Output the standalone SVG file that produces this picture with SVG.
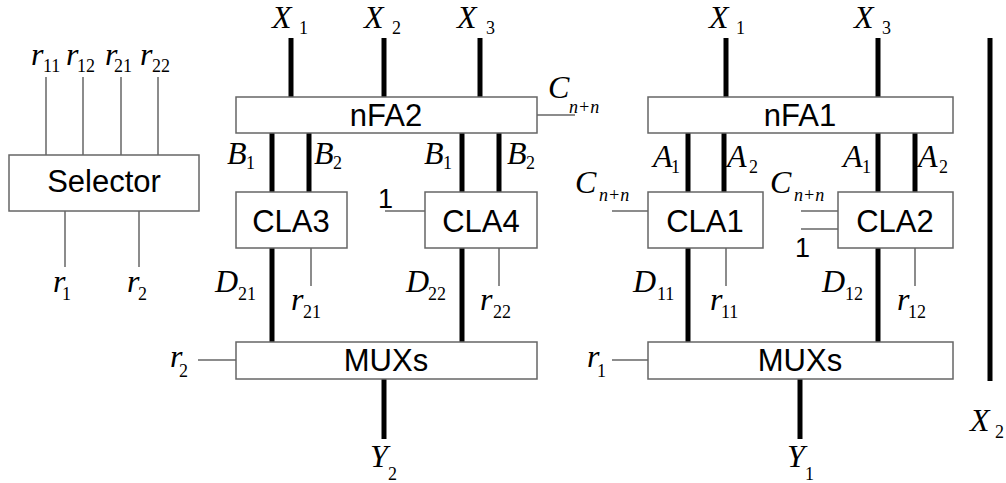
<svg xmlns="http://www.w3.org/2000/svg" width="1006" height="483" viewBox="0 0 1006 483">
<style>
.box{fill:#fff;stroke:#666;stroke-width:1.5}
.bt{font-family:"Liberation Sans",Arial,sans-serif;font-size:31px;text-anchor:middle;fill:#000}
.thin{stroke:#666;stroke-width:1.5;fill:none}
.thick{stroke:#000;stroke-width:5;fill:none}
.v{font-family:"Liberation Serif","Times New Roman",serif;font-style:italic;font-size:32px;fill:#000}
.s{font-family:"Liberation Serif","Times New Roman",serif;font-style:normal;font-size:18px;fill:#000}
.si{font-family:"Liberation Serif","Times New Roman",serif;font-style:italic;font-size:18px;fill:#000}
.one{font-family:"Liberation Sans",Arial,sans-serif;font-size:27px;fill:#000}
</style>
<rect width="1006" height="483" fill="#fff"/>
<g id="connectors">
  <line class="thin" x1="46" y1="77" x2="46" y2="155"/>
  <line class="thin" x1="83" y1="77" x2="83" y2="155"/>
  <line class="thin" x1="121" y1="77" x2="121" y2="155"/>
  <line class="thin" x1="158" y1="77" x2="158" y2="155"/>
  <line class="thin" x1="65" y1="211" x2="65" y2="267"/>
  <line class="thin" x1="139" y1="211" x2="139" y2="267"/>
  <line class="thick" x1="291" y1="38" x2="291" y2="97"/>
  <line class="thick" x1="384" y1="38" x2="384" y2="97"/>
  <line class="thick" x1="480" y1="38" x2="480" y2="97"/>
  <line class="thin" x1="537" y1="115" x2="575" y2="115"/>
  <line class="thick" x1="272" y1="133" x2="272" y2="192"/>
  <line class="thick" x1="309" y1="133" x2="309" y2="192"/>
  <line class="thick" x1="462" y1="133" x2="462" y2="192"/>
  <line class="thick" x1="499" y1="133" x2="499" y2="192"/>
  <line class="thin" x1="385" y1="211" x2="425" y2="211"/>
  <line class="thick" x1="272" y1="248" x2="272" y2="342"/>
  <line class="thin" x1="311" y1="248" x2="311" y2="286"/>
  <line class="thick" x1="462" y1="248" x2="462" y2="342"/>
  <line class="thin" x1="499" y1="248" x2="499" y2="286"/>
  <line class="thin" x1="198" y1="360" x2="236" y2="360"/>
  <line class="thick" x1="384" y1="379" x2="384" y2="439"/>
  <line class="thick" x1="726" y1="38" x2="726" y2="97"/>
  <line class="thick" x1="878" y1="38" x2="878" y2="97"/>
  <line class="thick" x1="688" y1="133" x2="688" y2="192"/>
  <line class="thick" x1="724" y1="133" x2="724" y2="192"/>
  <line class="thick" x1="878" y1="133" x2="878" y2="192"/>
  <line class="thick" x1="915" y1="133" x2="915" y2="192"/>
  <line class="thin" x1="612" y1="211" x2="648" y2="211"/>
  <line class="thin" x1="801" y1="211" x2="838" y2="211"/>
  <line class="thin" x1="801" y1="229" x2="838" y2="229"/>
  <line class="thick" x1="688" y1="248" x2="688" y2="342"/>
  <line class="thin" x1="726" y1="248" x2="726" y2="286"/>
  <line class="thick" x1="878" y1="248" x2="878" y2="342"/>
  <line class="thin" x1="915" y1="248" x2="915" y2="286"/>
  <line class="thin" x1="612" y1="360" x2="648" y2="360"/>
  <line class="thick" x1="800" y1="379" x2="800" y2="439"/>
  <line class="thick" x1="990" y1="38" x2="990" y2="381"/>
</g>
<g id="selector"><rect class="box" x="9" y="155" width="190" height="56"/><text class="bt" x="104" y="192">Selector</text></g>
<g id="nFA2"><rect class="box" x="236" y="97" width="301" height="36"/><text class="bt" x="386" y="126">nFA2</text></g>
<g id="CLA3"><rect class="box" x="236" y="192" width="111" height="56"/><text class="bt" x="291" y="232">CLA3</text></g>
<g id="CLA4"><rect class="box" x="425" y="192" width="112" height="56"/><text class="bt" x="481" y="232">CLA4</text></g>
<g id="MUXs2"><rect class="box" x="236" y="342" width="301" height="37"/><text class="bt" x="386" y="371">MUXs</text></g>
<g id="nFA1"><rect class="box" x="648" y="97" width="305" height="36"/><text class="bt" x="800" y="126">nFA1</text></g>
<g id="CLA1"><rect class="box" x="648" y="192" width="115" height="56"/><text class="bt" x="705" y="232">CLA1</text></g>
<g id="CLA2"><rect class="box" x="838" y="192" width="115" height="56"/><text class="bt" x="895" y="232">CLA2</text></g>
<g id="MUXs1"><rect class="box" x="648" y="342" width="305" height="37"/><text class="bt" x="800" y="371">MUXs</text></g>
<g id="labels">
  <text class="v" x="31" y="65">r</text><text class="s" x="43" y="72">11</text>
  <text class="v" x="66" y="65">r</text><text class="s" x="77" y="72">12</text>
  <text class="v" x="105" y="65">r</text><text class="s" x="114" y="72">21</text>
  <text class="v" x="140" y="65">r</text><text class="s" x="152" y="72">22</text>
  <text class="v" x="53" y="292">r</text><text class="s" x="62" y="300">1</text>
  <text class="v" x="127" y="292">r</text><text class="s" x="138" y="300">2</text>

  <text class="v" x="272" y="28">X</text><text class="s" x="299" y="34">1</text>
  <text class="v" x="364" y="28">X</text><text class="s" x="392" y="34">2</text>
  <text class="v" x="457" y="28">X</text><text class="s" x="486" y="34">3</text>
  <text class="v" x="548" y="98">C</text><text class="si" x="569" y="113">n+n</text>

  <text class="v" x="227" y="164">B</text><text class="s" x="246" y="169">1</text>
  <text class="v" x="314" y="164">B</text><text class="s" x="333" y="169">2</text>
  <text class="v" x="424" y="164">B</text><text class="s" x="443" y="169">1</text>
  <text class="v" x="507" y="164">B</text><text class="s" x="526" y="169">2</text>
  <text class="one" x="378" y="208">1</text>

  <text class="v" x="215" y="292">D</text><text class="s" x="238" y="300">21</text>
  <text class="v" x="291" y="310">r</text><text class="s" x="303" y="318">21</text>
  <text class="v" x="406" y="292">D</text><text class="s" x="428" y="300">22</text>
  <text class="v" x="480" y="310">r</text><text class="s" x="493" y="318">22</text>
  <text class="v" x="170" y="367">r</text><text class="s" x="179" y="377">2</text>
  <text class="v" x="370" y="467">Y</text><text class="s" x="388" y="480">2</text>

  <text class="v" x="709" y="28">X</text><text class="s" x="736" y="34">1</text>
  <text class="v" x="854" y="28">X</text><text class="s" x="882" y="34">3</text>

  <text class="v" x="653" y="167">A</text><text class="s" x="671" y="173">1</text>
  <text class="v" x="727" y="167">A</text><text class="s" x="749" y="173">2</text>
  <text class="v" x="843" y="167">A</text><text class="s" x="862" y="173">1</text>
  <text class="v" x="918" y="167">A</text><text class="s" x="939" y="173">2</text>

  <text class="v" x="575" y="193">C</text><text class="si" x="599" y="201">n+n</text>
  <text class="v" x="770" y="193">C</text><text class="si" x="794" y="201">n+n</text>
  <text class="one" x="795" y="257">1</text>

  <text class="v" x="633" y="292">D</text><text class="s" x="657" y="300">11</text>
  <text class="v" x="710" y="310">r</text><text class="s" x="721" y="318">11</text>
  <text class="v" x="822" y="292">D</text><text class="s" x="845" y="300">12</text>
  <text class="v" x="897" y="310">r</text><text class="s" x="908" y="318">12</text>
  <text class="v" x="587" y="367">r</text><text class="s" x="597" y="377">1</text>
  <text class="v" x="787" y="467">Y</text><text class="s" x="805" y="480">1</text>
  <text class="v" x="970" y="431">X</text><text class="s" x="995" y="438">2</text>
</g>
</svg>
